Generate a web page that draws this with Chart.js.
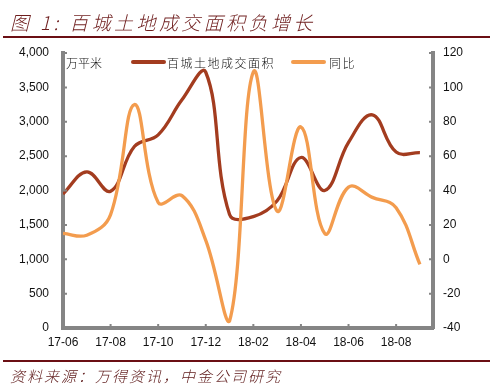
<!DOCTYPE html>
<html>
<head>
<meta charset="utf-8">
<script src="https://cdn.jsdelivr.net/npm/chart.js@4"></script>
<style>
  html, body { margin: 0; padding: 0; background: #fff; }
  #wrap { position: relative; width: 496px; height: 391px; overflow: hidden; }
  #chart { position: absolute; left: 0; top: 0; }
  .title {
    position: absolute; left: 10px; top: 8px;
    font-family: "Noto Sans CJK SC", sans-serif; font-style: italic; font-weight: 300;
    font-size: 19px; letter-spacing: 3.4px; color: #6e1d1d; white-space: nowrap;
  }
  .rule { position: absolute; left: 3px; width: 487px; height: 2px; background: #6b0f14; }
  .source {
    position: absolute; left: 10px; top: 365px;
    font-family: "Noto Sans CJK SC", sans-serif; font-style: italic; font-weight: 300;
    font-size: 15px; letter-spacing: 2px; color: #5e1a1a; white-space: nowrap;
  }
</style>
</head>
<body>
<div id="wrap">
  <canvas id="chart" width="496" height="391"></canvas>
  <div class="title">图 1: 百城土地成交面积负增长</div>
  <div class="rule" style="top:36px"></div>
  <div class="rule" style="top:360px"></div>
  <div class="source">资料来源：万得资讯，中金公司研究</div>
</div>
<script>
// 月份 (x 轴)
const months = ["17-06", "17-07", "17-08", "17-09", "17-10", "17-11", "17-12", "18-01",
                "18-02", "18-03", "18-04", "18-05", "18-06", "18-07", "18-08", "18-09"];
// 百城土地成交面积 (万平米, 左轴)
const landArea = [1950, 2270, 1990, 2640, 2810, 3320, 3720, 1650,
                  1620, 1850, 2480, 2000, 2700, 3100, 2560, 2550];
// 同比 (%, 右轴)
const yoy = [15, 14, 26, 90, 33, 37, 11, -36,
             109, 28, 77, 15, 42, 36, 30, -3];
const areaLabel = "百城土地成交面积";
const yoyLabel = "同比";
const unitLabel = "万平米";

const AXIS_GREY = "#858585";

// 图例 & 单位画在绘图区内部
const insideLegend = {
  id: "insideLegend",
  afterDraw(chart) {
    const ctx = chart.ctx;
    ctx.save();
    ctx.font = '300 12px "Noto Sans CJK SC"';
    ctx.fillStyle = "#111";
    ctx.textBaseline = "middle";
    ctx.fillText(unitLabel, 66, 63);
    const items = [[0, 133, 167], [1, 293, 329]];
    items.forEach(([i, lx, tx]) => {
      const ds = chart.data.datasets[i];
      ctx.strokeStyle = ds.borderColor;
      ctx.lineWidth = 4;
      ctx.lineCap = "round";
      ctx.beginPath();
      ctx.moveTo(lx, 62);
      ctx.lineTo(lx + 31, 62);
      ctx.stroke();
      ctx.letterSpacing = "1.5px";
      ctx.fillText(ds.label, tx, 63);
    });
    ctx.restore();
  },
};

// 朝内的小刻度
const innerTicks = {
  id: "innerTicks",
  afterDraw(chart) {
    const ctx = chart.ctx;
    const a = chart.chartArea;
    ctx.save();
    ctx.strokeStyle = AXIS_GREY;
    ctx.lineWidth = 2;
    ctx.beginPath();
    chart.scales.y.ticks.forEach((t) => {
      const p = chart.scales.y.getPixelForValue(t.value);
      ctx.moveTo(a.left, p); ctx.lineTo(a.left + 4, p);
    });
    chart.scales.y2.ticks.forEach((t) => {
      const p = chart.scales.y2.getPixelForValue(t.value);
      ctx.moveTo(a.right, p); ctx.lineTo(a.right - 4, p);
    });
    chart.scales.x.ticks.forEach((t) => {
      const p = chart.scales.x.getPixelForValue(t.value);
      ctx.moveTo(p, a.bottom); ctx.lineTo(p, a.bottom - 4);
    });
    ctx.stroke();
    ctx.restore();
  },
};

const tickFont = { family: '"Liberation Sans", Arial, sans-serif', size: 12 };

new Chart(document.getElementById("chart"), {
  type: "line",
  data: {
    datasets: [
      {
        label: areaLabel,
        data: landArea.map((v, i) => ({ x: i, y: v })),
        borderColor: "#A33C1F",
        borderWidth: 3.3,
        pointRadius: 0,
        tension: 0.4,
        yAxisID: "y",
        order: 2,
      },
      {
        label: yoyLabel,
        data: yoy.map((v, i) => ({ x: i, y: v })),
        borderColor: "#F39C4E",
        borderWidth: 3.3,
        pointRadius: 0,
        tension: 0.4,
        yAxisID: "y2",
        order: 1,
      },
    ],
  },
  options: {
    responsive: false,
    animation: false,
    layout: { padding: { top: 53, left: 0, right: 0, bottom: 0 } },
    plugins: { legend: { display: false }, tooltip: { enabled: false } },
    scales: {
      x: {
        type: "linear",
        min: 0,
        max: 15.55,
        grid: { display: false, drawTicks: false },
        border: { display: true, color: AXIS_GREY, width: 4 },
        ticks: {
          stepSize: 2,
          includeBounds: false,
          padding: 7,
          maxRotation: 0,
          color: "#111",
          font: tickFont,
          callback: (v) => months[v] ?? "",
        },
        afterFit: (s) => { s.height = 63; },
      },
      y: {
        position: "left",
        min: 0,
        max: 4000,
        grid: { display: false, drawTicks: false },
        border: { display: true, color: AXIS_GREY, width: 4 },
        ticks: {
          stepSize: 500,
          padding: 14,
          color: "#111",
          font: tickFont,
          callback: (v) => v.toLocaleString("en-US"),
        },
        afterFit: (s) => { s.width = 63; },
      },
      y2: {
        position: "right",
        min: -40,
        max: 120,
        grid: { display: false, drawTicks: false },
        border: { display: true, color: AXIS_GREY, width: 4 },
        ticks: { stepSize: 20, padding: 10, color: "#111", font: tickFont },
        afterFit: (s) => { s.width = 63; },
      },
    },
  },
  plugins: [insideLegend, innerTicks],
});
</script>
</body>
</html>
